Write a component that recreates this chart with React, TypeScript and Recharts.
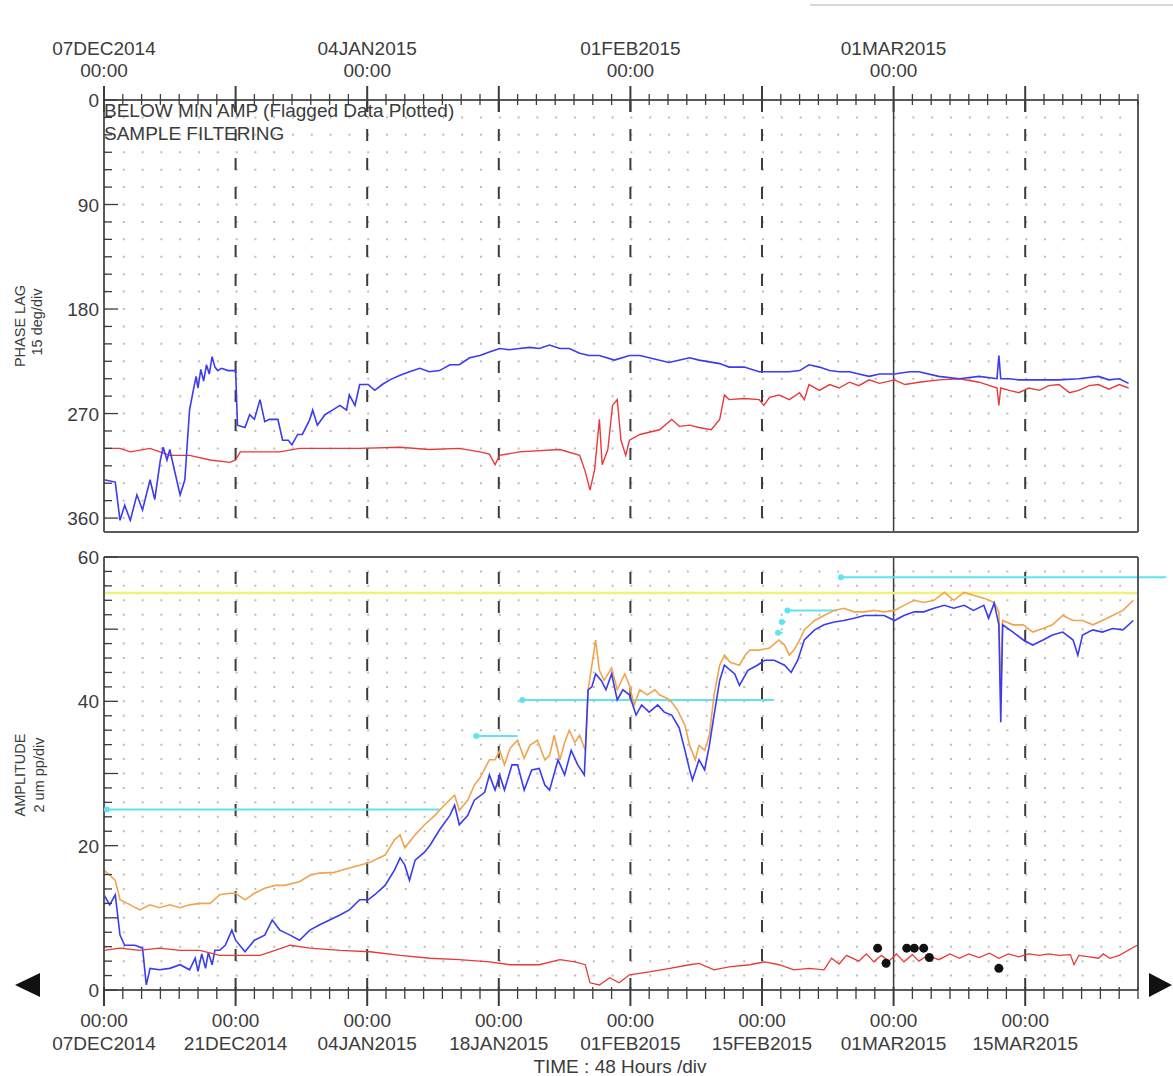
import { CartesianGrid, ComposedChart, Line, ReferenceDot, ReferenceLine, Scatter, XAxis, YAxis } from 'recharts'

const FONT = '"Liberation Sans", Arial, sans-serif'
const INK = '#3c3c3c'
const FRAME = '#5a5a5a'
const DOT_GRID = '#bdbdbd'

const BLUE = '#3b3bf2'
const RED = '#e83a3a'
const ORANGE = '#f0a450'
const CYAN = '#62e2ee'
const YELLOW = '#f0f07a'

// time axis in days since 07DEC2014 00:00, one minor division = 48 h
const DAY_END = 110
const dayTicks = Array.from({ length: 56 }, (_, i) => i * 2)
const topDateDays = [0, 28, 56, 84]
const topDateLabels = ['07DEC2014', '04JAN2015', '01FEB2015', '01MAR2015']
const bottomDateDays = [0, 14, 28, 42, 56, 70, 84, 98]
const bottomDateLabels = ['07DEC2014', '21DEC2014', '04JAN2015', '18JAN2015', '01FEB2015', '15FEB2015', '01MAR2015', '15MAR2015']
const dashedDays = [14, 28, 42, 56, 70, 98]
const cursorDay = 84

const PHASE_MAX = 372
const phaseTicks = Array.from({ length: 25 }, (_, i) => i * 15)
const ampTicks = Array.from({ length: 31 }, (_, i) => i * 2)

type Pt = [number, number]

// phase lag, deg
const phaseBlue: Pt[] = [
  [0, 327], [1.2, 329], [1.7, 362], [2.2, 349], [2.8, 362], [3.5, 340], [4.1, 353], [4.9, 327], [5.4, 344],
  [6.0, 310], [6.3, 299], [6.7, 310], [7.0, 301], [7.5, 319], [8.1, 340], [8.6, 327], [9.1, 267], [9.5, 250],
  [9.8, 238], [10.0, 248], [10.3, 232], [10.6, 242], [10.9, 228], [11.2, 236], [11.5, 221], [11.8, 230],
  [12.1, 233], [12.5, 231], [13.2, 233],
  [14.0, 233], [14.2, 280], [15.0, 282], [15.5, 271], [16.0, 275], [16.6, 258], [17.1, 277], [17.6, 275],
  [18.5, 275], [19.0, 293], [19.6, 293], [20.0, 297], [20.6, 288], [21.1, 288], [21.9, 275], [22.2, 267],
  [22.7, 280], [23.5, 271], [24.3, 267], [25.1, 263], [25.8, 267], [26.1, 254], [26.7, 263], [27.2, 245],
  [28.1, 245], [28.8, 250], [29.6, 245], [30.4, 241], [31.5, 237], [32.5, 234], [33.6, 231], [34.6, 234],
  [35.7, 233], [36.8, 228], [37.8, 228], [38.9, 222], [40.0, 220], [41.0, 217], [42.1, 214], [43.1, 215],
  [44.2, 214], [45.3, 213], [46.3, 214], [47.4, 211], [48.5, 214], [49.5, 214], [50.6, 218], [51.6, 220],
  [52.7, 220], [54.3, 224], [55.9, 220], [57.0, 220], [58.0, 222], [60.1, 226], [62.3, 222], [63.3, 224],
  [65.5, 227], [66.5, 230], [68.1, 230], [69.7, 234], [70.8, 234], [72.9, 234], [74.0, 233], [75.0, 228],
  [76.1, 230], [77.2, 233], [78.2, 234], [79.3, 234], [80.3, 236], [81.4, 238], [82.5, 236], [84.1, 236],
  [85.7, 234], [86.7, 234], [88.8, 238], [91.0, 240], [93.1, 238], [95.0, 240], [95.2, 220], [95.4, 240],
  [96.3, 240], [97.3, 241], [99.5, 241], [101.6, 241], [103.7, 240], [105.8, 238], [106.9, 241], [108.0, 240],
  [109.0, 244],
]

const phaseRed: Pt[] = [
  [0, 300], [1.7, 300], [2.8, 303], [4.9, 300], [7.0, 306], [9.1, 306], [11.3, 310], [13.4, 312], [14.0, 310],
  [14.5, 303], [16.6, 303], [18.7, 303], [20.8, 300], [24.0, 300], [27.2, 300], [31.5, 299], [34.6, 301],
  [37.8, 300], [40.0, 303], [41.0, 305], [41.6, 314], [42.1, 306], [44.2, 303], [48.5, 301], [50.6, 306],
  [51.2, 320], [51.7, 336], [52.2, 318], [52.7, 275], [53.0, 314], [53.6, 301], [54.1, 263], [54.6, 258],
  [55.0, 293], [55.5, 306], [55.9, 293], [57.0, 288], [59.1, 284], [60.4, 275], [61.2, 281], [62.3, 280],
  [63.3, 282], [64.6, 284], [65.5, 275], [66.0, 254], [66.5, 258], [68.1, 257], [69.7, 258], [70.2, 263],
  [70.8, 256], [71.8, 254], [72.9, 258], [74.0, 252], [74.5, 258], [75.0, 245], [76.1, 250], [77.2, 245],
  [78.2, 248], [79.3, 243], [80.3, 246], [81.4, 241], [82.5, 244], [84.1, 241], [85.2, 245], [86.7, 243],
  [88.8, 241], [91.0, 240], [93.1, 243], [95.0, 248], [95.2, 263], [95.4, 248], [96.3, 250], [97.3, 252],
  [98.4, 248], [99.5, 250], [100.5, 246], [101.6, 245], [102.7, 252], [103.7, 250], [104.8, 246],
  [105.8, 245], [106.9, 249], [108.0, 245], [109.0, 248],
]

// amplitude, um pp
const ampOrange: Pt[] = [
  [0, 16.6], [0.6, 15.9], [1.2, 15.2], [1.7, 12.5], [2.8, 11.8], [3.8, 11.1], [4.9, 11.8], [5.9, 11.4],
  [7.0, 11.8], [8.1, 11.4], [9.1, 11.8], [10.2, 12.0], [11.3, 12.0], [12.3, 13.2], [13.4, 13.4], [14.0, 13.4],
  [15.0, 12.5], [16.0, 13.4], [17.1, 14.1], [18.2, 14.5], [19.2, 14.5], [20.8, 15.0], [21.9, 15.9],
  [22.9, 16.2], [24.5, 16.3], [26.1, 16.9], [27.2, 17.3], [28.3, 17.7], [29.9, 18.7], [30.9, 20.8],
  [31.5, 21.5], [32.0, 19.7], [33.1, 21.5], [34.1, 22.9], [35.2, 24.2], [36.2, 25.6], [37.3, 27.0],
  [37.8, 24.9], [38.7, 26.3], [39.4, 28.4], [40.0, 29.4], [41.0, 31.9], [41.6, 31.9], [42.1, 33.2],
  [42.6, 31.2], [43.2, 33.5], [44.0, 34.6], [44.7, 32.1], [45.3, 33.9], [46.1, 34.6], [46.9, 31.9],
  [47.4, 32.5], [47.9, 35.3], [48.5, 31.9], [49.0, 34.3], [49.5, 36.0], [50.1, 34.3], [50.6, 35.3],
  [51.2, 33.2], [51.5, 41.6], [51.9, 45.0], [52.3, 48.5], [52.7, 44.3], [53.2, 42.9], [54.0, 44.6],
  [54.6, 41.6], [55.4, 43.8], [55.9, 42.2], [56.4, 39.5], [57.0, 41.6], [57.8, 40.9], [58.6, 41.6],
  [59.1, 40.9], [60.2, 40.2], [61.0, 38.8], [61.8, 36.7], [62.3, 33.9], [62.9, 31.9], [63.3, 33.9],
  [63.9, 33.2], [64.4, 35.3], [64.9, 40.9], [65.5, 45.0], [66.0, 46.4], [66.6, 45.4], [67.6, 45.0],
  [68.2, 46.4], [68.7, 47.1], [69.7, 47.1], [70.8, 47.4], [71.8, 48.5], [72.4, 47.8], [72.9, 46.4],
  [73.4, 47.1], [74.0, 48.5], [74.5, 49.9], [75.6, 51.2], [76.6, 51.9], [77.7, 52.6], [78.7, 52.9],
  [79.8, 52.4], [80.9, 52.4], [81.9, 52.6], [83.0, 52.4], [84.1, 52.6], [85.1, 53.3], [86.2, 54.0],
  [87.2, 53.7], [88.3, 54.0], [89.4, 55.1], [90.4, 54.0], [91.5, 55.1], [92.5, 54.7], [93.6, 54.3],
  [94.7, 53.7], [95.2, 52.4], [95.4, 40.2], [95.6, 51.2], [96.7, 50.6], [97.8, 50.6], [98.8, 49.6],
  [99.9, 50.1], [100.9, 50.6], [102.0, 51.9], [103.1, 51.2], [104.1, 51.2], [105.2, 50.6], [106.2, 51.2],
  [107.3, 51.9], [108.4, 52.6], [109.5, 54.0],
]

const ampBlue: Pt[] = [
  [0, 13.2], [0.6, 11.8], [1.2, 13.2], [1.7, 7.6], [2.2, 6.2], [3.3, 6.2], [4.1, 5.8], [4.5, 0.7], [4.9, 3.0],
  [5.9, 2.8], [7.0, 3.0], [8.1, 3.5], [9.1, 2.8], [9.7, 4.4], [10.0, 2.6], [10.4, 5.0], [10.8, 3.0],
  [11.1, 5.2], [11.5, 3.5], [11.8, 5.5], [12.3, 5.5],
  [12.9, 6.2], [13.6, 8.3], [14.0, 6.9], [15.0, 5.3], [16.0, 6.9], [17.1, 7.6], [17.9, 9.7], [18.7, 8.3],
  [19.8, 7.6], [20.8, 6.9], [21.9, 8.3], [22.9, 9.0], [24.0, 9.7], [25.1, 10.4], [26.1, 11.1], [27.2, 12.5],
  [28.1, 12.5], [28.8, 13.2], [29.9, 14.5], [30.9, 16.6], [31.5, 18.3], [32.0, 17.3], [32.5, 15.2],
  [33.1, 18.0], [34.1, 19.1], [34.7, 20.1], [35.7, 22.2], [36.8, 24.2], [37.3, 25.6], [37.8, 22.9],
  [38.7, 24.2], [39.4, 26.3], [40.5, 27.4], [41.0, 29.8], [41.6, 27.7], [42.1, 29.8], [42.6, 27.7],
  [43.4, 31.2], [44.0, 31.2], [44.7, 27.7], [45.5, 30.5], [46.3, 30.7], [46.9, 28.4], [47.4, 27.7],
  [48.3, 31.9], [49.0, 29.8], [49.7, 33.2], [50.4, 31.2], [51.1, 29.8], [51.5, 41.6], [51.9, 42.0],
  [52.3, 43.8], [52.9, 42.9], [53.4, 41.6], [54.0, 43.8], [54.6, 40.2], [55.2, 41.6], [55.9, 40.9],
  [56.6, 38.1], [57.2, 39.5], [58.0, 38.5], [58.9, 39.5], [59.6, 38.5], [60.4, 38.1], [61.2, 36.3],
  [61.8, 33.2], [62.3, 30.5], [62.6, 29.1], [63.3, 31.9], [63.9, 30.5], [64.4, 33.9], [64.9, 38.1],
  [65.5, 42.9], [66.0, 45.0], [67.1, 43.8], [67.6, 42.2], [68.5, 44.3], [69.5, 45.0], [70.3, 45.7],
  [71.3, 45.7], [72.4, 45.0], [73.1, 44.0], [73.8, 45.7], [74.5, 48.5], [75.6, 49.9], [76.6, 50.6],
  [77.7, 51.0], [78.7, 51.2], [79.8, 51.5], [80.9, 51.9], [81.9, 51.9], [83.0, 51.9], [84.1, 51.2],
  [85.1, 51.9], [86.2, 52.4], [87.2, 52.4], [88.3, 52.9], [89.4, 53.3], [90.4, 52.9], [91.5, 53.3],
  [92.5, 52.6], [93.6, 53.3], [94.1, 51.5], [94.7, 53.6], [95.2, 50.6], [95.4, 37.1], [95.6, 50.6],
  [96.7, 49.6], [97.8, 48.5], [98.8, 47.8], [99.9, 48.5], [100.9, 49.2], [102.0, 49.6], [103.1, 48.5],
  [103.6, 46.4], [104.1, 49.2], [105.2, 49.9], [106.2, 49.6], [107.3, 50.1], [108.4, 49.9], [109.5, 51.2],
]

const ampRed: Pt[] = [
  [0, 5.5], [1.7, 5.8], [3.8, 5.5], [5.9, 5.8], [8.1, 5.5], [10.2, 5.5], [12.3, 4.8], [14.5, 4.8], [16.6, 4.8],
  [18.2, 5.5], [19.8, 6.2], [21.9, 5.8], [25.1, 5.5], [28.3, 5.3], [31.5, 4.8], [34.7, 4.4], [37.8, 4.2],
  [41.0, 3.9], [43.2, 3.5], [46.3, 3.5], [48.5, 4.2], [50.1, 3.9], [51.2, 3.5], [51.7, 1.0], [52.7, 0.7],
  [53.8, 1.7], [54.8, 1.0], [55.9, 2.1], [58.0, 2.5], [60.2, 3.0], [62.3, 3.5], [63.3, 3.7], [64.9, 2.8],
  [66.5, 3.2], [68.7, 3.5], [70.3, 3.9], [71.8, 3.5], [73.4, 2.8], [75.0, 3.0], [76.6, 2.8], [77.4, 4.4],
  [78.2, 3.6], [79.0, 4.8], [80.3, 4.0], [81.1, 5.0], [81.9, 3.9], [82.7, 4.8], [83.5, 4.0], [84.3, 5.0],
  [85.1, 3.9], [86.0, 4.9], [86.7, 4.0], [87.6, 4.8], [88.8, 4.2], [90.0, 5.0], [91.0, 4.4], [92.0, 5.0],
  [93.1, 4.5], [94.2, 5.1], [95.2, 4.4], [96.2, 5.0], [97.3, 4.6], [98.4, 5.0], [99.5, 4.8], [100.5, 5.0],
  [101.6, 4.8], [102.8, 4.9], [103.2, 3.5], [103.7, 4.8], [104.8, 4.6], [105.8, 4.4], [106.3, 5.0],
  [107.0, 4.4], [108.0, 4.8], [109.9, 6.2],
]

const flaggedPoints: Pt[] = [[82.3, 5.8], [83.2, 3.7], [85.4, 5.8], [86.2, 5.8], [87.2, 5.8], [87.8, 4.5], [95.2, 3.0]]

// alarm level segments: [start day, end day, amplitude]
const alarmSegments: [number, number, number][] = [
  [0.3, 35.7, 25],
  [39.6, 44.0, 35.2],
  [44.5, 71.3, 40.2],
  [71.7, 72.2, 49.5],
  [72.1, 72.5, 51.0],
  [72.7, 78.0, 52.6],
  [78.4, 113, 57.2],
]
const ALERT_LEVEL = 55

const toRows = (pts: Pt[]) => pts.map(([d, v]) => ({ d, v }))

// plot frame, px inside each chart svg; axes get a thin band, the rest is margin
const W = 1173
const PL = 104
const PR = 1138
const AX = 10
const TOP_H = 545
const TOP_PT = 100
const TOP_PB = 532
const BOT_H = 531
const BOT_PT = 12
const BOT_PB = 445

const txt = { fontFamily: FONT, fontSize: 19, fill: INK }

function TopTimeTick(p: any) {
  const d = p.payload.value
  const major = d % 14 === 0
  const i = topDateDays.indexOf(d)
  return (
    <g>
      <line x1={p.x} x2={p.x} y1={major ? TOP_PT - 14 : TOP_PT - 6} y2={major ? TOP_PT + 12 : TOP_PT + 5} stroke={INK} strokeWidth={major ? 2 : 1.3} />
      {i >= 0 && (
        <>
          <text x={p.x} y={55} textAnchor="middle" {...txt}>{topDateLabels[i]}</text>
          <text x={p.x} y={77} textAnchor="middle" {...txt}>00:00</text>
        </>
      )}
    </g>
  )
}

function BottomTimeTick(p: any) {
  const d = p.payload.value
  const major = d % 14 === 0
  const i = bottomDateDays.indexOf(d)
  return (
    <g>
      <line x1={p.x} x2={p.x} y1={BOT_PB - 3} y2={major ? BOT_PB + 16 : BOT_PB + 9} stroke={INK} strokeWidth={major ? 2 : 1.3} />
      {i >= 0 && (
        <>
          <text x={p.x} y={482} textAnchor="middle" {...txt}>00:00</text>
          <text x={p.x} y={505} textAnchor="middle" {...txt}>{bottomDateLabels[i]}</text>
        </>
      )}
    </g>
  )
}

const makeYTick = (side: 'l' | 'r', majorStep: number, labelStep: number) => (p: any) => {
  const v = p.payload.value
  const len = v % majorStep === 0 ? 14 : 8
  const x0 = side === 'l' ? PL : PR
  const x1 = side === 'l' ? PL + len : PR - len
  return (
    <g>
      <line x1={x0} x2={x1} y1={p.y} y2={p.y} stroke={INK} strokeWidth={1.3} />
      {side === 'l' && v % labelStep === 0 && (
        <text x={PL - 5} y={p.y + 7} textAnchor="end" {...txt}>{v}</text>
      )}
    </g>
  )
}

const frameLine = { stroke: FRAME, strokeWidth: 2 }

function PhasePanel() {
  return (
    <ComposedChart width={W} height={TOP_H}
      margin={{ top: TOP_PT - AX, right: W - PR - AX, bottom: TOP_H - TOP_PB - AX, left: PL - AX }}>
      <XAxis xAxisId="t" orientation="top" type="number" dataKey="d" domain={[0, DAY_END]} ticks={dayTicks}
        interval={0} height={AX} axisLine={frameLine} tickLine={false} tick={TopTimeTick} />
      <XAxis xAxisId="b" orientation="bottom" type="number" dataKey="d" domain={[0, DAY_END]} height={AX}
        axisLine={frameLine} tickLine={false} tick={false} />
      <YAxis yAxisId="l" type="number" domain={[0, PHASE_MAX]} reversed ticks={phaseTicks} interval={0} width={AX}
        axisLine={frameLine} tickLine={false} tick={makeYTick('l', 90, 90)} />
      <YAxis yAxisId="r" orientation="right" type="number" domain={[0, PHASE_MAX]} reversed ticks={phaseTicks}
        interval={0} width={AX} axisLine={frameLine} tickLine={false} tick={makeYTick('r', 90, 90)} />
      <CartesianGrid xAxisId="t" yAxisId="l" vertical={false} stroke={DOT_GRID} strokeWidth={2} strokeDasharray="2 16.8" />
      {dashedDays.map((d) => (
        <ReferenceLine key={d} xAxisId="t" yAxisId="l" x={d} stroke={INK} strokeWidth={2} strokeDasharray="12 17" />
      ))}
      <ReferenceLine xAxisId="t" yAxisId="l" x={cursorDay} stroke={INK} strokeWidth={1.5} />
      <Line xAxisId="t" yAxisId="l" data={toRows(phaseRed)} dataKey="v" type="linear" stroke={RED} strokeWidth={1.4}
        dot={false} isAnimationActive={false} />
      <Line xAxisId="t" yAxisId="l" data={toRows(phaseBlue)} dataKey="v" type="linear" stroke={BLUE} strokeWidth={1.6}
        dot={false} isAnimationActive={false} />
    </ComposedChart>
  )
}

function AmplitudePanel() {
  return (
    <ComposedChart width={W} height={BOT_H}
      margin={{ top: BOT_PT - AX, right: W - PR - AX, bottom: BOT_H - BOT_PB - AX, left: PL - AX }}>
      <XAxis xAxisId="t" orientation="top" type="number" dataKey="d" domain={[0, DAY_END]} height={AX}
        axisLine={frameLine} tickLine={false} tick={false} />
      <XAxis xAxisId="b" orientation="bottom" type="number" dataKey="d" domain={[0, DAY_END]} ticks={dayTicks}
        interval={0} height={AX} axisLine={frameLine} tickLine={false} tick={BottomTimeTick} />
      <YAxis yAxisId="l" type="number" domain={[0, 60]} ticks={ampTicks} interval={0} width={AX}
        axisLine={frameLine} tickLine={false} tick={makeYTick('l', 10, 20)} />
      <YAxis yAxisId="r" orientation="right" type="number" domain={[0, 60]} ticks={ampTicks} interval={0} width={AX}
        axisLine={frameLine} tickLine={false} tick={makeYTick('r', 10, 20)} />
      <CartesianGrid xAxisId="b" yAxisId="l" vertical={false} stroke={DOT_GRID} strokeWidth={2} strokeDasharray="2 16.8" />
      {dashedDays.map((d) => (
        <ReferenceLine key={d} xAxisId="b" yAxisId="l" x={d} stroke={INK} strokeWidth={2} strokeDasharray="12 17" />
      ))}
      <ReferenceLine xAxisId="b" yAxisId="l" x={cursorDay} stroke={INK} strokeWidth={1.5} />
      <ReferenceLine xAxisId="b" yAxisId="l" y={ALERT_LEVEL} stroke={YELLOW} strokeWidth={2.5} />
      {alarmSegments.map(([a, b, v], i) => (
        <ReferenceLine key={`s${i}`} xAxisId="b" yAxisId="l" ifOverflow="visible" stroke={CYAN} strokeWidth={2}
          segment={[{ x: a, y: v }, { x: b, y: v }]} />
      ))}
      {alarmSegments.map(([a, , v], i) => (
        <ReferenceDot key={`m${i}`} xAxisId="b" yAxisId="l" x={a} y={v} r={3} fill={CYAN} stroke="none" ifOverflow="visible" />
      ))}
      <Line xAxisId="b" yAxisId="l" data={toRows(ampOrange)} dataKey="v" type="linear" stroke={ORANGE} strokeWidth={1.6}
        dot={false} isAnimationActive={false} />
      <Line xAxisId="b" yAxisId="l" data={toRows(ampBlue)} dataKey="v" type="linear" stroke={BLUE} strokeWidth={1.6}
        dot={false} isAnimationActive={false} />
      <Line xAxisId="b" yAxisId="l" data={toRows(ampRed)} dataKey="v" type="linear" stroke={RED} strokeWidth={1.3}
        dot={false} isAnimationActive={false} />
      <Scatter xAxisId="b" yAxisId="l" data={toRows(flaggedPoints)} dataKey="v" isAnimationActive={false}
        shape={(p: any) => <circle cx={p.cx} cy={p.cy} r={4.5} fill="#111" />} />
    </ComposedChart>
  )
}

export default function App() {
  const small = { fontFamily: FONT, fontSize: 14.5, fill: INK }
  return (
    <div style={{ position: 'absolute', left: 0, top: 0, width: W, height: 1076, background: '#fff' }}>
      <div style={{ position: 'absolute', left: 0, top: 0 }}>
        <PhasePanel />
      </div>
      <div style={{ position: 'absolute', left: 0, top: TOP_H }}>
        <AmplitudePanel />
      </div>
      <svg width={W} height={1076} style={{ position: 'absolute', left: 0, top: 0, pointerEvents: 'none' }}>
        <line x1={810} x2={W} y1={5} y2={5} stroke="#d8d8d8" strokeWidth={2} />
        <text x={PL} y={117} {...txt}>BELOW MIN AMP (Flagged Data Plotted)</text>
        <text x={PL} y={140} {...txt}>SAMPLE FILTERING</text>
        <text transform="translate(25 326) rotate(-90)" textAnchor="middle" {...small}>PHASE LAG</text>
        <text transform="translate(42 322) rotate(-90)" textAnchor="middle" {...small}>15 deg/div</text>
        <text transform="translate(25 775) rotate(-90)" textAnchor="middle" {...small}>AMPLITUDE</text>
        <text transform="translate(44 775) rotate(-90)" textAnchor="middle" {...small}>2 um pp/div</text>
        <text x={620} y={1073} textAnchor="middle" {...txt}>TIME : 48 Hours /div</text>
        <polygon points="15,985 40,973 40,997" fill="#111" />
        <polygon points="1172,985 1149,973 1149,997" fill="#111" />
      </svg>
    </div>
  )
}
